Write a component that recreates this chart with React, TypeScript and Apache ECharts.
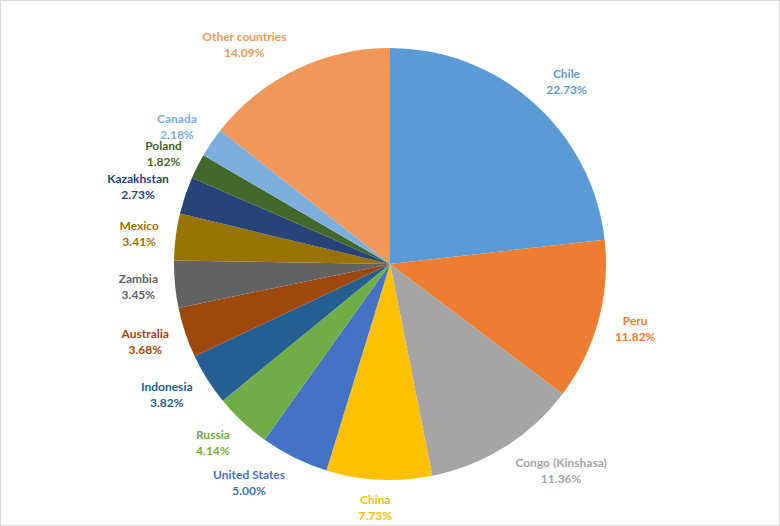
import React, { useEffect, useRef } from "react";
import * as echarts from "echarts";

const categories = [
  "Chile",
  "Peru",
  "Congo (Kinshasa)",
  "China",
  "United States",
  "Russia",
  "Indonesia",
  "Australia",
  "Zambia",
  "Mexico",
  "Kazakhstan",
  "Poland",
  "Canada",
  "Other countries",
];
const shares = [22.73, 11.82, 11.36, 7.73, 5.0, 4.14, 3.82, 3.68, 3.45, 3.41, 2.73, 1.82, 2.18, 14.09];
const colors = [
  "#5B9BD5",
  "#ED7D31",
  "#A5A5A5",
  "#FFC000",
  "#4472C4",
  "#70AD47",
  "#255E91",
  "#9E480E",
  "#636363",
  "#997300",
  "#264478",
  "#43682B",
  "#7CAFDD",
  "#F1975A",
];

const CX = 390;
const CY = 264;
const R = 216;
const GAP = 14;

export default function App() {
  const ref = useRef<HTMLDivElement>(null);
  useEffect(() => {
    if (!ref.current) return;
    const chart = echarts.init(ref.current, undefined, { renderer: "svg" });
    const total = shares.reduce((a, b) => a + b, 0);
    const mids: number[] = [];
    let acc = 0;
    shares.forEach((v) => {
      mids.push(((acc + v / 2) / total) * Math.PI * 2);
      acc += v;
    });
    const clamp = (x: number) => Math.max(-1, Math.min(1, x));
    chart.setOption({
      animation: false,
      backgroundColor: "#ffffff",
      series: [
        {
          type: "pie",
          center: [CX, CY],
          radius: R,
          startAngle: 90,
          clockwise: true,
          data: categories.map((name, i) => ({
            name,
            value: shares[i],
            itemStyle: { color: colors[i] },
            label: { color: colors[i] },
          })),
          itemStyle: { borderWidth: 0 },
          label: {
            show: true,
            position: "outside",
            formatter: (p: any) => `${p.name}\n${shares[p.dataIndex].toFixed(2)}%`,
            fontFamily: "Lato, 'Open Sans', sans-serif",
            fontWeight: "bold",
            fontSize: 12,
            lineHeight: 16,
            align: "center",
          },
          labelLine: { show: false },
          labelLayout: (p: any) => {
            const a = mids[p.dataIndex];
            const s = Math.sin(a);
            const c = Math.cos(a);
            const px = CX + (R + GAP) * s;
            const py = CY - (R + GAP) * c;
            const w = p.labelRect.width;
            const h = p.labelRect.height;
            return {
              x: px + (w / 2 + 3) * clamp(3 * s),
              y: py - (h / 2) * 0.88 * c,
              align: "center",
              verticalAlign: "middle",
            };
          },
        },
      ],
    });
    return () => chart.dispose();
  }, []);
  return (
    <div style={{ position: "fixed", left: 0, top: 0, width: 780, height: 526 }}>
      <div ref={ref} style={{ width: 780, height: 526 }} />
      <div
        style={{
          position: "absolute",
          left: 0,
          top: 0,
          width: 780,
          height: 526,
          border: "1px solid #d9d9d9",
          boxSizing: "border-box",
          pointerEvents: "none",
        }}
      />
    </div>
  );
}
